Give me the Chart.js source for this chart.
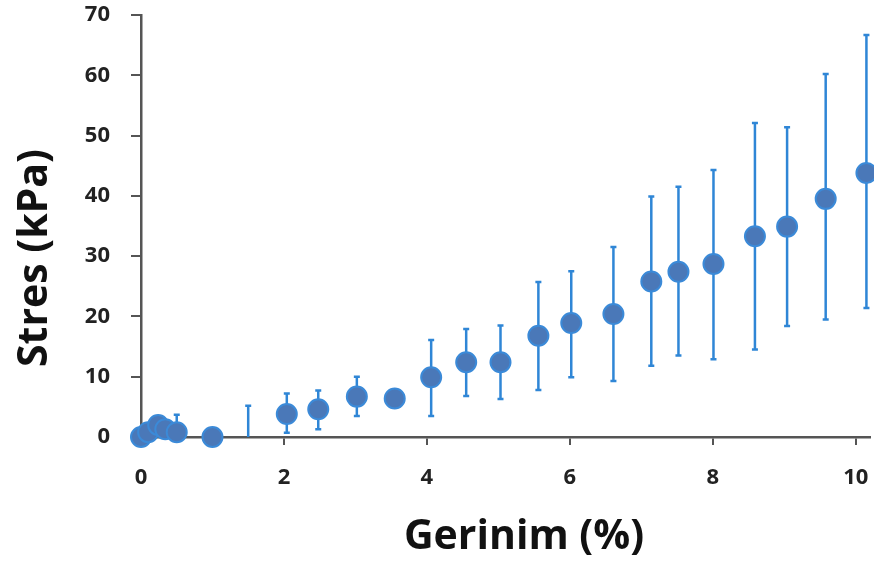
<!DOCTYPE html>
<html>
<head>
<meta charset="utf-8">
<script src="https://cdn.jsdelivr.net/npm/chart.js@4/dist/chart.umd.min.js"></script>
<style>
  html, body { margin: 0; padding: 0; background: #fff; }
  #wrap { width: 874px; height: 564px; }
</style>
</head>
<body>
<div id="wrap"><canvas id="stressChart"></canvas></div>
<script>
// strain (%) and mean stress (kPa)
const strain = [0, 0.1, 0.24, 0.34, 0.5, 1.0, 1.5, 2.04, 2.48, 3.02, 3.55, 4.06, 4.55, 5.03, 5.56, 6.02, 6.61, 7.14, 7.52, 8.01, 8.59, 9.04, 9.58, 10.15];
const stress = [0, 0.8, 2.0, 1.3, 0.8, 0, null, 3.8, 4.6, 6.7, 6.4, 9.9, 12.4, 12.4, 16.8, 18.9, 20.4, 25.8, 27.4, 28.7, 33.3, 34.9, 39.5, 43.8];
// error bar ends (kPa); null = no visible bar
const errTop = [null, null, null, null, 3.7, null, 5.2, 7.2, 7.7, 10.0, null, 16.1, 17.9, 18.5, 25.7, 27.5, 31.5, 39.9, 41.5, 44.3, 52.1, 51.4, 60.2, 66.7];
const errBottom = [null, null, null, null, 0, null, 0, 0.7, 1.3, 3.5, null, 3.5, 6.8, 6.3, 7.8, 9.9, 9.3, 11.8, 13.5, 12.9, 14.5, 18.4, 19.5, 21.4];
const yTicks = [0, 10, 20, 30, 40, 50, 60, 70];
const xTicks = [0, 2, 4, 6, 8, 10];
const xTitle = 'Gerinim (%)';
const yTitle = 'Stres (kPa)';

const points = strain.map((x, i) => ({ x: x, y: stress[i] }));

// Error bars drawn under the markers
const errorBars = {
    id: 'errorBars',
    beforeDatasetsDraw(chart) {
        const ctx = chart.ctx;
        const xs = chart.scales.x, ys = chart.scales.y;
        ctx.save();
        ctx.strokeStyle = '#2f86d6';
        ctx.lineWidth = 2.5;
        strain.forEach((x, i) => {
            if (errTop[i] === null) return;
            const px = xs.getPixelForValue(x);
            const top = ys.getPixelForValue(errTop[i]);
            const bot = ys.getPixelForValue(errBottom[i]);
            ctx.beginPath();
            ctx.moveTo(px, top);
            ctx.lineTo(px, bot);
            ctx.moveTo(px - 3, top);
            ctx.lineTo(px + 3, top);
            if (errBottom[i] > 0) {
                ctx.moveTo(px - 3, bot);
                ctx.lineTo(px + 3, bot);
            }
            ctx.stroke();
        });
        ctx.restore();
    }
};

// Axis titles, placed a bit off-centre like the original figure
const axisTitles = {
    id: 'axisTitles',
    afterDraw(chart) {
        const ctx = chart.ctx;
        ctx.save();
        ctx.fillStyle = '#111';
        ctx.font = 'bold 41px "Open Sans", sans-serif';
        ctx.textAlign = 'center';
        ctx.textBaseline = 'middle';
        ctx.fillText(xTitle, 524, 537);
        ctx.translate(35, 258);
        ctx.rotate(-Math.PI / 2);
        ctx.fillText(yTitle, 0, 0);
        ctx.restore();
    }
};

const tickFont = { family: '"Open Sans", sans-serif', size: 22, weight: 'bold' };

new Chart(document.getElementById('stressChart'), {
    type: 'scatter',
    data: {
        datasets: [{
            data: points,
            backgroundColor: '#4a78b8',
            borderColor: '#3b8ad8',
            borderWidth: 2,
            pointRadius: 10,
            pointHoverRadius: 10,
            clip: false
        }]
    },
    options: {
        responsive: true,
        maintainAspectRatio: false,
        animation: false,
        layout: { autoPadding: false, padding: { top: 15, right: 4, left: 0, bottom: 0 } },
        plugins: { legend: { display: false }, tooltip: { enabled: false } },
        scales: {
            x: {
                type: 'linear',
                min: 0,
                max: 10.2,
                afterBuildTicks: (s) => { s.ticks = xTicks.map(v => ({ value: v })); },
                afterFit: (s) => { s.height = 127; s.paddingLeft = 0; s.paddingRight = 0; },
                border: { display: true, color: '#555', width: 2.5 },
                grid: { display: true, drawOnChartArea: false, drawTicks: true, tickLength: 8, color: '#555', lineWidth: 2 },
                ticks: { color: '#222', font: tickFont, padding: 20, maxRotation: 0 }
            },
            y: {
                type: 'linear',
                min: 0,
                max: 70,
                afterBuildTicks: (s) => { s.ticks = yTicks.map(v => ({ value: v })); },
                afterFit: (s) => { s.width = 141; s.paddingTop = 0; s.paddingBottom = 0; },
                border: { display: true, color: '#555', width: 2.5 },
                grid: { display: true, drawOnChartArea: false, drawTicks: true, tickLength: 10, color: '#555', lineWidth: 2 },
                ticks: { color: '#222', font: tickFont, padding: 21 }
            }
        }
    },
    plugins: [errorBars, axisTitles]
});
</script>
</body>
</html>
